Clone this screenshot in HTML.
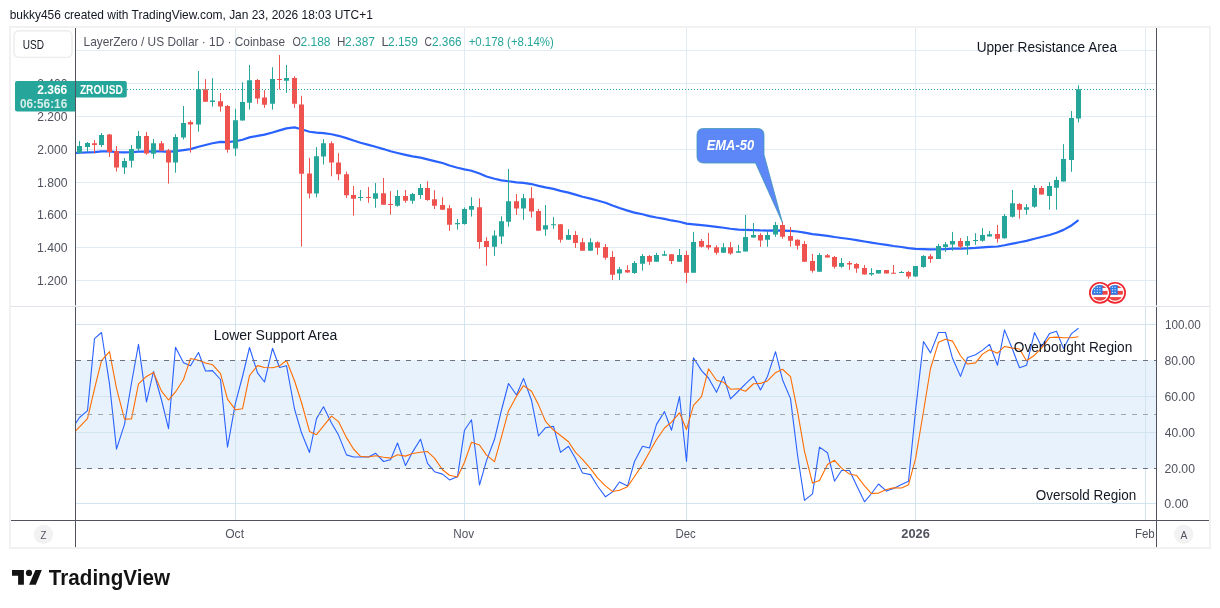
<!DOCTYPE html>
<html><head><meta charset="utf-8"><title>LayerZero / US Dollar chart</title>
<style>html,body{margin:0;padding:0;background:#fff;width:1220px;height:608px;overflow:hidden}svg{display:block;will-change:transform}</style>
</head><body><svg width="1220" height="608" viewBox="0 0 1220 608"><rect x="0" y="0" width="1220" height="608" fill="#ffffff"/><rect x="9" y="26" width="2" height="523" fill="#f1f1f1"/><rect x="9" y="26" width="1202" height="2" fill="#f1f1f1"/><rect x="1209" y="26" width="2" height="523" fill="#f1f1f1"/><rect x="9" y="547" width="1202" height="2" fill="#f1f1f1"/><defs><clipPath id="cp"><rect x="76" y="28" width="1080" height="277"/></clipPath><clipPath id="cr"><rect x="76" y="307" width="1080" height="213"/></clipPath></defs><path d="M76 50.5H1156M76 83.5H1156M76 116.5H1156M76 149.5H1156M76 182.5H1156M76 214.5H1156M76 247.5H1156M76 280.5H1156M235.5 28V305M464.5 28V305M686.5 28V305M915.5 28V305M1145.5 28V305" stroke="#e1ebf3" stroke-width="1" fill="none"/><rect x="76" y="360" width="1080" height="109" fill="#e8f2fc"/><path d="M76 324.5H1156M76 396.5H1156M76 432.5H1156M76 503.5H1156M235.5 307V520M464.5 307V520M686.5 307V520M915.5 307V520M1145.5 307V520" stroke="#d3e4f1" stroke-width="1" fill="none"/><g clip-path="url(#cp)"><polyline points="72.5,153 79.5,152.73 87.5,152.34 94.5,152.06 101.5,151.39 109.5,151.41 116.5,152.05 124.5,152.4 131.5,152.26 138.5,151.63 146.5,151.7 153.5,151.36 161.5,151.34 168.5,151.78 175.5,151.2 183.5,150.1 190.5,149.1 198.5,146.75 205.5,144.98 212.5,143.24 220.5,141.81 227.5,142.12 235.5,141.26 242.5,139.73 249.5,137.39 257.5,135.87 264.5,134.64 272.5,132.46 279.5,130.4 286.5,128.35 294.5,127.38 301.5,129.2 309.5,131.72 316.5,132.68 323.5,133.09 331.5,134.24 338.5,135.81 346.5,138.14 353.5,140.52 360.5,142.74 368.5,144.91 375.5,146.8 383.5,149.07 390.5,151.25 397.5,153.01 405.5,154.88 412.5,156.42 420.5,157.65 427.5,159.32 434.5,161.14 442.5,163.05 449.5,165.47 457.5,167.72 464.5,169.34 471.5,170.78 479.5,173.57 486.5,176.44 494.5,178.75 501.5,180.42 508.5,181.23 516.5,182.31 523.5,182.93 531.5,184.05 538.5,185.88 545.5,187.43 553.5,188.87 560.5,190.87 568.5,192.6 575.5,194.58 582.5,196.78 590.5,198.57 597.5,200.49 605.5,202.74 612.5,205.57 619.5,208.06 627.5,210.59 634.5,212.64 642.5,214.28 649.5,216.07 656.5,217.53 664.5,218.89 671.5,220.46 679.5,221.74 686.5,223.65 693.5,224.29 701.5,225.08 708.5,225.94 716.5,226.96 723.5,227.73 730.5,228.72 738.5,229.58 745.5,229.85 753.5,230.03 760.5,230.42 767.5,230.58 775.5,230.34 782.5,230.57 790.5,230.95 797.5,231.51 804.5,232.67 812.5,234.15 819.5,234.94 827.5,235.8 834.5,236.99 841.5,237.99 849.5,239.01 856.5,240.14 864.5,241.47 871.5,242.69 878.5,243.74 886.5,244.89 893.5,245.99 901.5,246.99 908.5,248.12 915.5,248.8 923.5,249.06 930.5,249.42 938.5,249.26 945.5,249.04 952.5,248.7 960.5,248.6 967.5,248.28 975.5,247.93 982.5,247.4 989.5,246.86 997.5,246.51 1004.5,245.29 1012.5,243.62 1019.5,242.27 1026.5,240.87 1034.5,238.77 1041.5,237.01 1049.5,234.99 1056.5,232.81 1063.5,229.89 1071.5,225.48 1078.5,220.12" fill="none" stroke="#2962ff" stroke-width="2.2" stroke-linejoin="round"/><path d="M79.5 141V153.5M87.5 142V152M101.5 133V147M124.5 158V174M131.5 145V167.6M138.5 131V151.4M153.5 139V158.7M175.5 134.2V172.7M183.5 106V139.5M198.5 71V131.6M212.5 78.2V106.6M235.5 108.8V155.9M242.5 82.2V120.6M249.5 65V109.7M272.5 67.2V109.7M286.5 65V92.9M316.5 147.1V197.4M323.5 139.2V164.5M360.5 190V200.8M375.5 183V207.8M397.5 190V206.7M412.5 192.9V203.8M420.5 184V198.8M457.5 219V229.6M464.5 207.4V224.7M471.5 197.2V216.6M494.5 230.3V255.8M501.5 216.3V244M508.5 169V226.7M523.5 194V219.8M545.5 205V235.7M553.5 217.1V228.8M568.5 229.2V240M590.5 238.2V250.8M619.5 267.1V280M634.5 260.9V273.9M642.5 254V270.6M656.5 252.8V261.7M664.5 250.8V255.7M679.5 249V261.7M693.5 231.9V272.7M723.5 243.2V252.7M738.5 244.9V252.7M745.5 215V251.6M753.5 223V237.6M767.5 231.1V246.8M775.5 221.9V236.8M819.5 253.2V271.7M841.5 258V267.7M871.5 268.1V275.8M878.5 270.1V273.6M901.5 271V272.8M915.5 265.9V276.8M923.5 255.1V267.7M938.5 243.9V258.9M945.5 242V251.9M952.5 231.9V250.8M967.5 236.1V254.9M975.5 233.2V244.7M982.5 228V241.7M989.5 231V236.4M1004.5 214.1V238.7M1012.5 190V217.6M1026.5 204V214.7M1034.5 185.1V207.8M1049.5 182.2V209.7M1056.5 176.7V209.7M1063.5 144.1V181.6M1071.5 111V171.8M1078.5 85.3V122.4" stroke="#26a69a" stroke-width="1" fill="none"/><path d="M94.5 140V153.4M109.5 134V157M116.5 146V171.6M146.5 132V154.7M161.5 141V151M168.5 149V183.6M190.5 120.3V152.6M205.5 79.2V101.7M220.5 93V111.7M227.5 105V152.6M257.5 79V103.8M264.5 90.2V107.9M279.5 55V89.5M294.5 76.2V107.9M301.5 95.8V246.6M309.5 157.9V198.4M331.5 141.3V176.3M338.5 153.2V180.3M346.5 171.6V197.9M353.5 186V215.7M368.5 187V202.8M383.5 178V204.7M390.5 191.2V214.6M405.5 190V202.8M427.5 181.2V200.8M434.5 190.2V209M442.5 197.2V209.8M449.5 205V230.9M479.5 198.3V248.7M486.5 237.2V265.8M516.5 194V214.8M531.5 187.2V217.6M538.5 208.9V230.8M560.5 224.2V242.6M575.5 231.1V247.9M582.5 238.2V250.8M597.5 241.2V254.8M605.5 244V259.7M612.5 251.1V280M627.5 265.2V272.6M649.5 254.9V264.9M671.5 254.2V264.1M686.5 250.8V283.1M701.5 239V247.6M708.5 233V249.7M716.5 245.2V254.7M730.5 242V254.7M760.5 233.1V246.8M782.5 222V238.7M790.5 227V246.6M797.5 239.2V249.7M804.5 241.1V261.8M812.5 254V272.6M827.5 254V257.5M834.5 256V268.6M849.5 261V269.9M856.5 263V272.8M864.5 265V274.6M886.5 270.1V273.6M893.5 265V273.6M908.5 270.9V278.7M930.5 254V262.8M960.5 238V248.7M997.5 225V242.6M1019.5 202.9V218.7M1041.5 186V194.6" stroke="#ef5350" stroke-width="1" fill="none"/><path d="M77 146h5v7h-5zM85 143h5v4h-5zM99 135h5v10h-5zM122 161h5v6.6h-5zM129 149h5v11.7h-5zM136 136h5v12.8h-5zM151 143.2h5v10.5h-5zM173 137h5v25.6h-5zM181 123h5v14.6h-5zM196 89.3h5v35.3h-5zM210 100.6h5v1.4h-5zM233 120.2h5v28.4h-5zM240 102.1h5v18.5h-5zM247 80.2h5v22.6h-5zM270 79h5v24.8h-5zM284 78h5v2.8h-5zM314 156.3h5v37.1h-5zM321 143.2h5v13.4h-5zM358 197.1h5v1h-5zM373 193.2h5v5.6h-5zM395 196h5v9.8h-5zM410 194h5v6.8h-5zM418 188h5v6.9h-5zM455 223h5v1.3h-5zM462 209h5v15h-5zM469 205.9h5v3.9h-5zM492 235.4h5v11.3h-5zM499 221.2h5v15.3h-5zM506 201.2h5v20.5h-5zM521 198.2h5v10.4h-5zM543 225.3h5v4.3h-5zM551 224.2h5v1.1h-5zM566 235.1h5v4.6h-5zM588 242.2h5v8.6h-5zM617 269.2h5v4.4h-5zM632 262.9h5v10h-5zM640 256h5v7.7h-5zM654 255.1h5v6.6h-5zM662 254.2h5v1.5h-5zM677 255.1h5v6.6h-5zM691 241.9h5v30.8h-5zM721 247.2h5v5.5h-5zM736 251.2h5v1.5h-5zM743 237.1h5v14.5h-5zM751 235.1h5v2.5h-5zM765 235.1h5v4.6h-5zM773 225.1h5v9.5h-5zM817 255h5v16.7h-5zM839 263h5v3.8h-5zM869 273.1h5v1.5h-5zM876 270.1h5v3.5h-5zM899 272h5v1h-5zM913 266h5v10.5h-5zM921 256h5v10.9h-5zM936 246h5v12.9h-5zM943 244.2h5v2.7h-5zM950 241h5v3.6h-5zM965 241h5v4.7h-5zM973 239.9h5v1.1h-5zM980 235h5v5.7h-5zM987 234.2h5v2.2h-5zM1002 216h5v22.2h-5zM1010 203.2h5v13.5h-5zM1024 207.2h5v2.5h-5zM1032 188h5v18.8h-5zM1047 186h5v9.9h-5zM1054 180.1h5v7.6h-5zM1061 158.9h5v22.7h-5zM1069 118.1h5v41.8h-5zM1076 89.3h5v29.1h-5z" fill="#26a69a"/><path d="M92 143.3h5v1.7h-5zM107 134.6h5v17.4h-5zM114 151h5v16.6h-5zM144 136h5v17.4h-5zM159 143.2h5v7.6h-5zM166 150.2h5v12.4h-5zM188 122h5v2.6h-5zM203 89.3h5v12.4h-5zM218 101.3h5v5.3h-5zM225 106h5v43.8h-5zM255 79.9h5v18.6h-5zM262 97.4h5v7.3h-5zM277 79h5v1h-5zM292 78h5v25.8h-5zM299 104.5h5v69.2h-5zM307 173.4h5v20h-5zM329 143.2h5v19.2h-5zM336 162.4h5v11.8h-5zM344 174.2h5v21.1h-5zM351 195.1h5v3.7h-5zM366 197.1h5v1h-5zM381 193.2h5v11.5h-5zM388 204h5v1h-5zM403 196h5v4.8h-5zM425 188.1h5v12h-5zM432 199.3h5v6.4h-5zM440 204.9h5v4.9h-5zM447 208.2h5v16.6h-5zM477 207.2h5v34.7h-5zM484 241.1h5v5.8h-5zM514 201.2h5v7.4h-5zM529 198.2h5v13.3h-5zM536 211h5v19.8h-5zM558 224.2h5v15.6h-5zM573 235.1h5v7.9h-5zM580 242.2h5v8.6h-5zM595 242.2h5v5.5h-5zM603 247.1h5v10.7h-5zM610 257h5v17.8h-5zM625 270h5v2.6h-5zM647 256h5v5.7h-5zM669 254.2h5v6.7h-5zM684 255.1h5v17.6h-5zM699 241.1h5v5.7h-5zM706 245.1h5v2.4h-5zM714 247.2h5v5.5h-5zM728 247.2h5v6.3h-5zM758 235.1h5v5.5h-5zM780 225h5v11.8h-5zM788 236.1h5v4.7h-5zM795 239.8h5v6h-5zM802 243.9h5v17.9h-5zM810 260.9h5v9.9h-5zM825 255.3h5v2.2h-5zM832 256.9h5v9.8h-5zM847 263.1h5v1.5h-5zM854 264h5v4.6h-5zM862 268.1h5v6.5h-5zM884 270.1h5v3.5h-5zM891 272.8h5v1h-5zM906 272h5v4.5h-5zM928 256.2h5v2.7h-5zM958 241h5v5.8h-5zM995 234.1h5v4.6h-5zM1017 204h5v5.7h-5zM1039 188h5v6.6h-5z" fill="#ef5350"/><path d="M76 89.5H1156" stroke="#26a69a" stroke-width="1" stroke-dasharray="1,2" fill="none"/></g><g clip-path="url(#cr)"><polyline points="72.5,427.9 79.5,417.5 87.5,410.7 94.5,338.6 101.5,332.5 109.5,383.8 116.5,449.1 124.5,424.4 131.5,383 138.5,344.3 146.5,401.9 153.5,371.5 161.5,400 168.5,428.6 175.5,347.3 183.5,362.7 190.5,365.7 198.5,352.5 205.5,371 212.5,370.6 220.5,379.5 227.5,447.2 235.5,402.8 242.5,376.5 249.5,347.5 257.5,372.8 264.5,382 272.5,348.3 279.5,367.5 286.5,365.7 294.5,409 301.5,432.8 309.5,452.5 316.5,418.6 323.5,406.8 331.5,422.9 338.5,435.1 346.5,454.9 353.5,457 360.5,457 368.5,457 375.5,453.2 383.5,461.5 390.5,459.8 397.5,443 405.5,465.6 412.5,452.1 420.5,439.2 427.5,463.4 434.5,471.7 442.5,474.1 449.5,479.9 457.5,476.8 464.5,430.2 471.5,419.8 479.5,485 486.5,460.6 494.5,439.3 501.5,410 508.5,383.5 516.5,395 523.5,378.4 531.5,400.2 538.5,436 545.5,427.7 553.5,426.4 560.5,452.4 568.5,446.3 575.5,458.5 582.5,473 590.5,474.6 597.5,486 605.5,496.8 612.5,491.9 619.5,482 627.5,486.1 634.5,461.5 642.5,446.3 649.5,448 656.5,424.4 664.5,411.6 671.5,430.2 679.5,396.6 686.5,461.5 693.5,357.8 701.5,370.6 708.5,378 716.5,392.3 723.5,376.4 730.5,398.9 738.5,391 745.5,383.8 753.5,376.4 760.5,390 767.5,376.4 775.5,351.7 782.5,379.7 790.5,398.6 797.5,455 804.5,500.4 812.5,493.9 819.5,447.1 827.5,452.7 834.5,481.2 841.5,470.5 849.5,470.5 856.5,485.3 864.5,501.8 871.5,493.5 878.5,484 886.5,491.1 893.5,488.6 901.5,484.5 908.5,481.2 915.5,411 923.5,341.5 930.5,352.9 938.5,332.5 945.5,332.5 952.5,358.3 960.5,376.4 967.5,357.5 975.5,354.7 982.5,350.1 989.5,344.3 997.5,365.2 1004.5,329.9 1012.5,349.3 1019.5,367.8 1026.5,365.3 1034.5,332.6 1041.5,346.5 1049.5,333.6 1056.5,331.2 1063.5,348.4 1071.5,333.6 1078.5,328.3" fill="none" stroke="#2962ff" stroke-width="1.1" stroke-linejoin="round"/><polyline points="72.5,434 79.5,426.9 87.5,418.7 94.5,388.93 101.5,360.6 109.5,351.63 116.5,388.47 124.5,419.1 131.5,418.83 138.5,383.9 146.5,376.4 153.5,372.57 161.5,391.13 168.5,400.03 175.5,391.97 183.5,379.53 190.5,358.57 198.5,360.3 205.5,363.07 212.5,364.7 220.5,373.7 227.5,399.1 235.5,409.83 242.5,408.83 249.5,375.6 257.5,365.6 264.5,367.43 272.5,367.7 279.5,365.93 286.5,360.5 294.5,380.73 301.5,402.5 309.5,431.43 316.5,434.63 323.5,425.97 331.5,416.1 338.5,421.6 346.5,437.63 353.5,449 360.5,456.3 368.5,457 375.5,455.73 383.5,457.23 390.5,458.17 397.5,454.77 405.5,456.13 412.5,453.57 420.5,452.3 427.5,451.57 434.5,458.1 442.5,469.73 449.5,475.23 457.5,476.93 464.5,462.3 471.5,442.27 479.5,445 486.5,455.13 494.5,461.63 501.5,436.63 508.5,410.93 516.5,396.17 523.5,385.63 531.5,391.2 538.5,404.87 545.5,421.3 553.5,430.03 560.5,435.5 568.5,441.7 575.5,452.4 582.5,459.27 590.5,468.7 597.5,477.87 605.5,485.8 612.5,491.57 619.5,490.23 627.5,486.67 634.5,476.53 642.5,464.63 649.5,451.93 656.5,439.57 664.5,428 671.5,422.07 679.5,412.8 686.5,429.43 693.5,405.3 701.5,396.63 708.5,368.8 716.5,380.3 723.5,382.23 730.5,389.2 738.5,388.77 745.5,391.23 753.5,383.73 760.5,383.4 767.5,380.93 775.5,372.7 782.5,369.27 790.5,376.67 797.5,411.1 804.5,451.33 812.5,483.1 819.5,480.47 827.5,464.57 834.5,460.33 841.5,468.13 849.5,474.07 856.5,475.43 864.5,485.87 871.5,493.53 878.5,493.1 886.5,489.53 893.5,487.9 901.5,488.07 908.5,484.77 915.5,458.9 923.5,411.23 930.5,368.47 938.5,342.3 945.5,339.3 952.5,341.1 960.5,355.73 967.5,364.07 975.5,362.87 982.5,354.1 989.5,349.7 997.5,353.2 1004.5,346.47 1012.5,348.13 1019.5,349 1026.5,360.8 1034.5,355.23 1041.5,348.13 1049.5,337.57 1056.5,337.1 1063.5,337.73 1071.5,337.73 1078.5,336.77" fill="none" stroke="#ff6d00" stroke-width="1.1" stroke-linejoin="round"/></g><path d="M76 360.5H1156" stroke="#6f727c" stroke-width="1" stroke-dasharray="5,6" fill="none"/><path d="M76 414.5H1156" stroke="#a3a5ad" stroke-width="1" stroke-dasharray="5,6" fill="none"/><path d="M76 468.5H1156" stroke="#6f727c" stroke-width="1" stroke-dasharray="5,6" fill="none"/><g font-family="'Liberation Sans', Arial, sans-serif"><text x="976.64" y="51.7" font-size="14" fill="#131722" textLength="140.37" lengthAdjust="spacingAndGlyphs" >Upper Resistance Area</text><text x="213.65" y="340" font-size="14" fill="#131722" textLength="123.58" lengthAdjust="spacingAndGlyphs" >Lower Support Area</text><text x="1013.75" y="351.7" font-size="14" fill="#131722" textLength="118.54" lengthAdjust="spacingAndGlyphs" >Overbought Region</text><text x="1035.76" y="499.8" font-size="14" fill="#131722" textLength="100.43" lengthAdjust="spacingAndGlyphs" >Oversold Region</text><path d="M703.5 128.5H757.5Q764 128.5 764 135V154.5L782.4 222.6L755.5 163H703.5Q697 163 697 156.5V135Q697 128.5 703.5 128.5Z" fill="#5d87f6" stroke="#3f97b8" stroke-width="0.8"/><text x="706.77" y="149.8" font-size="13.8" fill="#ffffff" textLength="47.32" lengthAdjust="spacingAndGlyphs" font-weight="bold" font-style="italic" >EMA-50</text><circle cx="1115.1" cy="292.8" r="10.05" fill="#ffffff" stroke="#f0262f" stroke-width="1.7"/><clipPath id="fc1115"><circle cx="1115.1" cy="292.8" r="7.9"/></clipPath><g clip-path="url(#fc1115)"><rect x="1107.1" y="284.8" width="16" height="16" fill="#ffffff"/><rect x="1107.1" y="285.4" width="16" height="2.6" fill="#ee4444"/><rect x="1107.1" y="290.9" width="16" height="3.8" fill="#ee4444"/><rect x="1107.1" y="297.1" width="16" height="3.8" fill="#ee4444"/><rect x="1107.1" y="284.8" width="10.6" height="9.9" fill="#2f7be6"/><rect x="1109.2" y="286.7" width="1.2" height="1.2" fill="#cfe3ff"/><rect x="1109.2" y="289.2" width="1.2" height="1.2" fill="#cfe3ff"/><rect x="1109.2" y="291.8" width="1.2" height="1.2" fill="#cfe3ff"/><rect x="1111.9" y="286.7" width="1.2" height="1.2" fill="#cfe3ff"/><rect x="1111.9" y="289.2" width="1.2" height="1.2" fill="#cfe3ff"/><rect x="1111.9" y="291.8" width="1.2" height="1.2" fill="#cfe3ff"/><rect x="1114.5" y="286.7" width="1.2" height="1.2" fill="#cfe3ff"/><rect x="1114.5" y="289.2" width="1.2" height="1.2" fill="#cfe3ff"/><rect x="1114.5" y="291.8" width="1.2" height="1.2" fill="#cfe3ff"/></g><circle cx="1099.9" cy="292.8" r="10.05" fill="#ffffff" stroke="#f0262f" stroke-width="1.7"/><clipPath id="fc1099"><circle cx="1099.9" cy="292.8" r="7.9"/></clipPath><g clip-path="url(#fc1099)"><rect x="1091.9" y="284.8" width="16" height="16" fill="#ffffff"/><rect x="1091.9" y="285.4" width="16" height="2.6" fill="#ee4444"/><rect x="1091.9" y="290.9" width="16" height="3.8" fill="#ee4444"/><rect x="1091.9" y="297.1" width="16" height="3.8" fill="#ee4444"/><rect x="1091.9" y="284.8" width="10.6" height="9.9" fill="#2f7be6"/><rect x="1094" y="286.7" width="1.2" height="1.2" fill="#cfe3ff"/><rect x="1094" y="289.2" width="1.2" height="1.2" fill="#cfe3ff"/><rect x="1094" y="291.8" width="1.2" height="1.2" fill="#cfe3ff"/><rect x="1096.7" y="286.7" width="1.2" height="1.2" fill="#cfe3ff"/><rect x="1096.7" y="289.2" width="1.2" height="1.2" fill="#cfe3ff"/><rect x="1096.7" y="291.8" width="1.2" height="1.2" fill="#cfe3ff"/><rect x="1099.3" y="286.7" width="1.2" height="1.2" fill="#cfe3ff"/><rect x="1099.3" y="289.2" width="1.2" height="1.2" fill="#cfe3ff"/><rect x="1099.3" y="291.8" width="1.2" height="1.2" fill="#cfe3ff"/></g><path d="M75.5 28V305.5M75.5 307V547M1156.5 28V305.5M1156.5 307V547M11 520.5H1209" stroke="#50535e" stroke-width="1" fill="none"/><path d="M11 306.5H1209" stroke="#e0e3eb" stroke-width="1" fill="none"/><text x="37.3" y="87.9" font-size="12.6" fill="#50535e" textLength="30.15" lengthAdjust="spacingAndGlyphs" >2.400</text><text x="37.3" y="120.9" font-size="12.6" fill="#50535e" textLength="30.15" lengthAdjust="spacingAndGlyphs" >2.200</text><text x="37.3" y="153.9" font-size="12.6" fill="#50535e" textLength="30.15" lengthAdjust="spacingAndGlyphs" >2.000</text><text x="36.99" y="186.9" font-size="12.6" fill="#50535e" textLength="30.47" lengthAdjust="spacingAndGlyphs" >1.800</text><text x="36.99" y="218.9" font-size="12.6" fill="#50535e" textLength="30.47" lengthAdjust="spacingAndGlyphs" >1.600</text><text x="36.99" y="251.9" font-size="12.6" fill="#50535e" textLength="30.47" lengthAdjust="spacingAndGlyphs" >1.400</text><text x="36.99" y="284.9" font-size="12.6" fill="#50535e" textLength="30.47" lengthAdjust="spacingAndGlyphs" >1.200</text><text x="1164.92" y="328.9" font-size="12.6" fill="#50535e" textLength="35.83" lengthAdjust="spacingAndGlyphs" >100.00</text><text x="1164.48" y="364.9" font-size="12.6" fill="#50535e" textLength="30.47" lengthAdjust="spacingAndGlyphs" >80.00</text><text x="1164.39" y="400.9" font-size="12.6" fill="#50535e" textLength="30.57" lengthAdjust="spacingAndGlyphs" >60.00</text><text x="1164.73" y="436.9" font-size="12.6" fill="#50535e" textLength="30.23" lengthAdjust="spacingAndGlyphs" >40.00</text><text x="1164.39" y="472.9" font-size="12.6" fill="#50535e" textLength="30.57" lengthAdjust="spacingAndGlyphs" >20.00</text><text x="1164.3" y="507.9" font-size="12.6" fill="#50535e" textLength="24.18" lengthAdjust="spacingAndGlyphs" >0.00</text><text x="225.23" y="537.7" font-size="12.5" fill="#50535e" textLength="18.77" lengthAdjust="spacingAndGlyphs" >Oct</text><text x="453.23" y="537.7" font-size="12.5" fill="#50535e" textLength="20.84" lengthAdjust="spacingAndGlyphs" >Nov</text><text x="675.46" y="537.7" font-size="12.5" fill="#50535e" textLength="20.26" lengthAdjust="spacingAndGlyphs" >Dec</text><text x="901.25" y="537.7" font-size="12.5" fill="#50535e" textLength="28.53" lengthAdjust="spacingAndGlyphs" font-weight="bold" >2026</text><text x="1134.95" y="537.7" font-size="12.5" fill="#50535e" textLength="19.82" lengthAdjust="spacingAndGlyphs" >Feb</text><path d="M17 81.1H75.5V111.6H17Q15 111.6 15 109.6V83.1Q15 81.1 17 81.1Z" fill="#26a69a"/><path d="M75.5 81.1H124.8Q126.8 81.1 126.8 83.1V95.6Q126.8 97.6 124.8 97.6H75.5Z" fill="#26a69a"/><path d="M75.5 81V112" stroke="#50535e" stroke-width="1"/><text x="37.28" y="93.9" font-size="12.6" fill="#ffffff" textLength="29.94" lengthAdjust="spacingAndGlyphs" font-weight="bold" >2.366</text><text x="19.93" y="107.75" font-size="12.6" fill="#d6ede9" textLength="47.29" lengthAdjust="spacingAndGlyphs" font-weight="bold" >06:56:16</text><text x="79.89" y="93.8" font-size="12.6" fill="#ffffff" textLength="42.93" lengthAdjust="spacingAndGlyphs" font-weight="bold" >ZROUSD</text><rect x="14" y="30.8" width="58" height="26.6" rx="5" fill="#ffffff" stroke="#ececec" stroke-width="1.4"/><text x="22.82" y="48.9" font-size="12.9" fill="#131722" textLength="21.25" lengthAdjust="spacingAndGlyphs" >USD</text><circle cx="43.5" cy="534.4" r="9.6" fill="#f2f2f2"/><text x="40.59" y="538.8" font-size="11.4" fill="#50535e" textLength="5.91" lengthAdjust="spacingAndGlyphs" >Z</text><circle cx="1183.7" cy="534.4" r="9.6" fill="#f2f2f2"/><text x="1180.47" y="538.75" font-size="11.4" fill="#50535e" textLength="6.85" lengthAdjust="spacingAndGlyphs" >A</text><text x="83.52" y="45.5" font-size="12.2" fill="#50535e" textLength="201.5" lengthAdjust="spacingAndGlyphs" >LayerZero / US Dollar · 1D · Coinbase</text><text x="292.39" y="45.5" font-size="12.2" fill="#50535e" textLength="8.32" lengthAdjust="spacingAndGlyphs" >O</text><text x="300.5" y="45.5" font-size="12.2" fill="#26a69a" textLength="30.01" lengthAdjust="spacingAndGlyphs" >2.188</text><text x="337.04" y="45.5" font-size="12.2" fill="#50535e" textLength="8.42" lengthAdjust="spacingAndGlyphs" >H</text><text x="345.1" y="45.5" font-size="12.2" fill="#26a69a" textLength="29.9" lengthAdjust="spacingAndGlyphs" >2.387</text><text x="381.43" y="45.5" font-size="12.2" fill="#50535e" textLength="7.2" lengthAdjust="spacingAndGlyphs" >L</text><text x="388" y="45.5" font-size="12.2" fill="#26a69a" textLength="29.83" lengthAdjust="spacingAndGlyphs" >2.159</text><text x="424.59" y="45.5" font-size="12.2" fill="#50535e" textLength="7.42" lengthAdjust="spacingAndGlyphs" >C</text><text x="431.91" y="45.5" font-size="12.2" fill="#26a69a" textLength="29.7" lengthAdjust="spacingAndGlyphs" >2.366</text><text x="468.63" y="45.5" font-size="12.2" fill="#26a69a" textLength="85.19" lengthAdjust="spacingAndGlyphs" >+0.178 (+8.14%)</text><text x="9.72" y="18.76" font-size="12.4" fill="#131722" textLength="363.14" lengthAdjust="spacingAndGlyphs" >bukky456 created with TradingView.com, Jan 23, 2026 18:03 UTC+1</text><path d="M12 570.1H23.9V584.8H18.1V575.7H12Z" fill="#131313"/><circle cx="29" cy="572.9" r="3.1" fill="#131313"/><path d="M35.4 570.1H41.8L35.8 584.8H29.1Z" fill="#131313"/><text x="48.84" y="584.8" font-size="21.3" fill="#131313" textLength="121.1" lengthAdjust="spacingAndGlyphs" font-weight="bold" >TradingView</text></g></svg></body></html>
